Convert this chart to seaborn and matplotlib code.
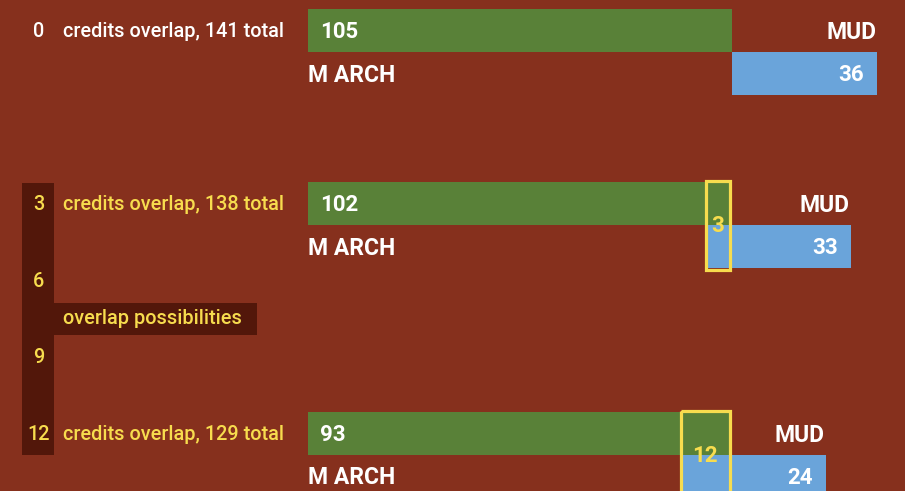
import matplotlib
matplotlib.use("Agg")
import matplotlib.pyplot as plt
from matplotlib.patches import Rectangle
import seaborn as sns

# ---- data ----
overlap = [0, 3, 12]                 # credits overlapping
totals = [141, 138, 129]             # total credits
march_labels = [105, 102, 93]        # M ARCH-only credits shown
mud_labels = [36, 33, 24]            # MUD-only credits shown
march_len = [105, 104.4, 104.4]      # M ARCH bar length as drawn
mud_len = [36, 36, 36]               # MUD bar length as drawn
overlap_drawn = [0, 5.9, 12.1]       # width of the highlighted overlap band as drawn
scale_ticks = [3, 6, 9, 12]          # "overlap possibilities" scale

BG = "#86301d"
GREEN = "#598138"
BLUE = "#6aa4da"
YELLOW = "#f7dc4e"
DARK = "#52170a"
WHITE = "#ffffff"

sns.set_theme(style="white")
plt.rcParams["font.family"] = ["Roboto", "DejaVu Sans"]

W, H = 905, 491
fig = plt.figure(figsize=(W / 100, H / 100), dpi=100)
fig.patch.set_facecolor(BG)

deco = fig.add_axes([0, 0, 1, 1])
deco.set_xlim(0, W)
deco.set_ylim(H, 0)
deco.axis("off")
deco.set_facecolor(BG)

ax = fig.add_axes([0, 0, 1, 1])
X0, PX_PER = 308, 424 / 105
ax.set_xlim(-X0 / PX_PER, (W - X0) / PX_PER)
ax.set_ylim(H, 0)
ax.axis("off")
ax.patch.set_alpha(0)

ROW = 43
def group_y(v, i):
    if i == 0:
        return 9
    return 182 + (v - 3) * (230 / 9)

def scale_y(v):
    return 204.5 + (v - 3) * (230 / 9)

LFS = 14.3
LW_ = "medium"
VFS = 16.5
NFS = 16
# left scale bar
deco.add_patch(Rectangle((22, 183), 32, 272, color=DARK, lw=0, zorder=1))
deco.add_patch(Rectangle((54, 303), 203, 32, color=DARK, lw=0, zorder=1))
deco.text(63, 319, "overlap possibilities", color=YELLOW, fontsize=LFS,
          fontweight=LW_, va="center", ha="left", zorder=3)
for t in scale_ticks:
    deco.text(38.5, scale_y(t), str(t), color=YELLOW, fontsize=LFS,
              fontweight=LW_, va="center", ha="center", zorder=3)

for i, ov in enumerate(overlap):
    top = group_y(ov, i)
    gy = top + ROW / 2
    by = top + ROW * 1.5
    txtcol = WHITE if ov == 0 else YELLOW
    if ov == 0:
        deco.text(38.5, gy + 1, str(ov), color=WHITE, fontsize=LFS,
                  fontweight=LW_, va="center", ha="center", zorder=3)
    deco.text(63, gy + 1, f"credits overlap, {totals[i]} total", color=txtcol,
              fontsize=LFS, fontweight=LW_, va="center", ha="left", zorder=3)

    ax.barh(gy, march_len[i], height=ROW, left=0, color=GREEN, lw=0, zorder=2)
    bstart = march_len[i] - overlap_drawn[i]
    ax.barh(by, mud_len[i], height=ROW, left=bstart, color=BLUE, lw=0, zorder=2)
    bend = bstart + mud_len[i]

    ax.text(3, gy + 1.5, str(march_labels[i]), color=WHITE, fontsize=NFS,
            fontweight="bold", va="center", ha="left", zorder=4)
    ax.text(0, by + 1.5, "M ARCH", color=WHITE, fontsize=VFS,
            fontweight="bold", va="center", ha="left", zorder=4)
    ax.text(bend - 0.3, gy + 1.5, "MUD", color=WHITE, fontsize=VFS,
            fontweight="bold", va="center", ha="right", zorder=4)
    ax.text(bend - 3.3, by + 1.5, str(mud_labels[i]), color=WHITE, fontsize=NFS,
            fontweight="bold", va="center", ha="right", zorder=4)

    if ov > 0:
        ax.add_patch(Rectangle((bstart, top - 1.5), overlap_drawn[i], ROW * 2 + 3,
                               fill=False, edgecolor=YELLOW, lw=2.3, zorder=5))
        ax.text(bstart + overlap_drawn[i] / 2, top + ROW + 1, str(ov), color=YELLOW,
                fontsize=NFS, fontweight="bold", va="center", ha="center", zorder=6)

fig.savefig("out.png", dpi=100, facecolor=BG)
